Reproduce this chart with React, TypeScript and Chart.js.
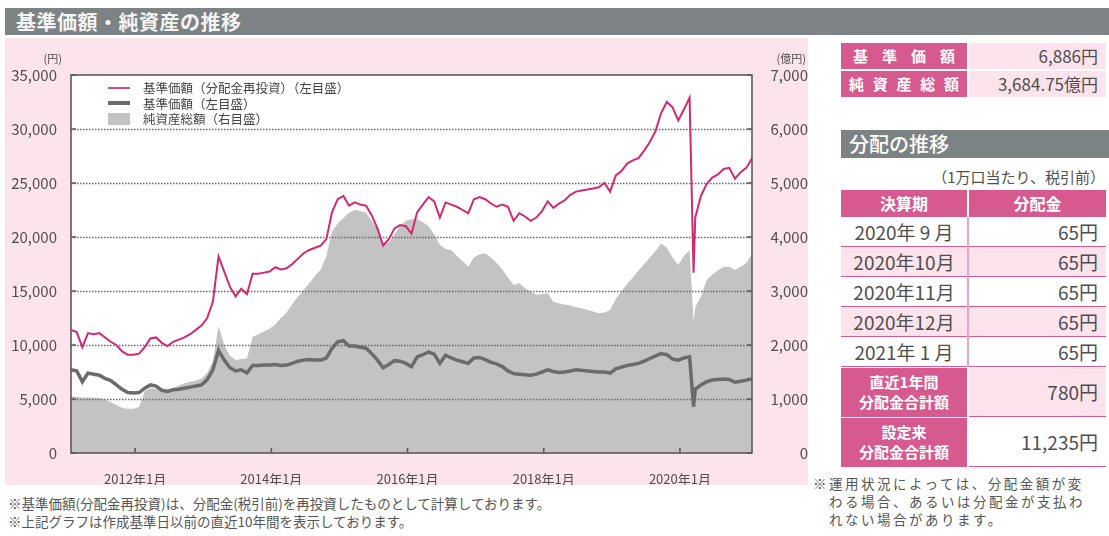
import React, { useEffect, useRef } from "react";
import { Chart, registerables } from "chart.js";

Chart.register(...registerables);

const FONT = "'Noto Sans CJK JP', 'Noto Sans', sans-serif";

// months since 2011-01-01 of the first monthly observation
const firstObservation = 0.7;

// 基準価額（分配金再投資） monthly, 円
const navReinvested = [
  11400, 11200, 9800, 11100, 11000, 11100, 10700, 10300, 10000, 9400,
  9100, 9100, 9200, 9800, 10600, 10700, 10200, 9900, 10300, 10500,
  10700, 11000, 11400, 11800, 12500, 14000, 18200, 16800, 15400, 14500,
  15200, 14700, 16600, 16600, 16700, 16800, 17200, 17000, 17100, 17500,
  18000, 18500, 18800, 19000, 19200, 19800, 22300, 23500, 23800, 22900,
  23200, 23000, 22900, 22000, 20800, 19200, 19800, 20800, 21100, 21000,
  20300, 22300, 23000, 23700, 23300, 21800, 23200, 23000, 22800, 22500,
  22200, 23500, 23700, 23500, 23100, 22800, 23000, 22800, 21500, 22200,
  21900, 21500, 21800, 22400, 23300, 22700, 23100, 23400, 23900, 24200,
  24300, 24400, 24500, 24600, 25000, 24200, 25700, 26100, 26800, 27100,
  27300, 28000, 28800, 29800, 31500, 32500, 32000, 30800, 31800, 32900,
  21800, 23800, 24900, 25500, 25800, 26300, 26400, 25400, 26000, 26400,
  27300,
];

// 基準価額 monthly, 円
const nav = [
  7700, 7600, 6600, 7400, 7300, 7200, 6900, 6700, 6300, 5900,
  5600, 5550, 5600, 6000, 6300, 6200, 5800, 5700, 5850, 5900,
  6000, 6100, 6200, 6300, 6800, 7700, 9500, 8600, 7900, 7600,
  7700, 7400, 8100, 8100, 8150, 8150, 8200, 8100, 8150, 8300,
  8500, 8600, 8650, 8600, 8600, 8800, 9700, 10300, 10400, 9900,
  9900, 9800, 9700, 9200, 8600, 7900, 8200, 8550, 8500, 8300,
  8000, 8900, 9100, 9350, 9150, 8300, 9050, 8800, 8600, 8450,
  8300, 8800, 8850, 8650, 8400, 8250, 8000, 7600, 7350, 7300,
  7250, 7200, 7300, 7500, 7700, 7550, 7450, 7500, 7600, 7700,
  7650, 7600, 7550, 7500, 7500, 7400, 7800, 7950, 8100, 8200,
  8300, 8500, 8750, 9000, 9200, 9100, 8700, 8600, 8800, 8900,
  5900, 6300, 6600, 6750, 6800, 6850, 6800, 6550, 6650, 6750,
  6886,
];

// 純資産総額 monthly, 億円
const netAssets = [
  1050, 1040, 1030, 1030, 1030, 1020, 990, 940, 890, 840,
  820, 820, 850, 1150, 1200, 1190, 1180, 1180, 1200, 1250,
  1290, 1320, 1340, 1380, 1480, 1700, 2350, 2000, 1800, 1720,
  1740, 1750, 2150, 2200, 2250, 2300, 2380, 2500, 2600, 2760,
  2900, 3020, 3150, 3280, 3400, 3650, 4100, 4250, 4350, 4450,
  4500, 4480, 4450, 4300, 4150, 3900, 3900, 4050, 4200, 4300,
  4330, 4330, 4280, 4200, 4050, 3850, 3780, 3760, 3650, 3550,
  3450, 3620, 3680, 3700, 3620, 3520, 3400, 3250, 3110, 3150,
  3050, 2990, 2930, 2940, 2960, 2800, 2770, 2750, 2730, 2700,
  2680, 2650, 2620, 2590, 2600, 2650, 2850, 3000, 3130, 3250,
  3380, 3500, 3620, 3740, 3880, 3800, 3620, 3480, 3650, 3760,
  2700, 2900, 3200, 3300, 3380, 3450, 3450, 3390, 3450, 3520,
  3685,
];

// March 2020 intramonth low
const crashMonth = [110.4];
const crashNavReinvested = [16700];
const crashNav = [4300];
const crashNetAssets = [2450];

const xTickMonths = [12, 36, 60, 84, 108];
const xTickLabels = ["2012年1月", "2014年1月", "2016年1月", "2018年1月", "2020年1月"];

const legendLabels = ["基準価額（分配金再投資）（左目盛）", "基準価額（左目盛）", "純資産総額（右目盛）"];

const summaryLabels = ["基準価額", "純資産総額"];
const summaryValues = ["6,886円", "3,684.75億円"];
const distPeriods = ["2020年 9 月", "2020年10月", "2020年11月", "2020年12月", "2021年 1 月"];
const distValues = ["65円", "65円", "65円", "65円", "65円"];
const totalLabels = [["直近1年間", "分配金合計額"], ["設定来", "分配金合計額"]];
const totalValues = ["780円", "11,235円"];

const PINK_DARK = "#d65a8f";
const PINK_LIGHT = "#fce3ec";
const PANEL_PINK = "#fde3eb";
const TITLE_GRAY = "#7d8384";
const TEXT = "#4f4f4f";

function toPoints(monthly: number[], extra: number[]) {
  const pts = monthly.map((y, i) => ({ x: firstObservation + i, y }));
  crashMonth.forEach((x, k) => pts.push({ x, y: extra[k] }));
  return pts.sort((a, b) => a.x - b.x);
}

export default function App() {
  const canvasRef = useRef<HTMLCanvasElement>(null);

  useEffect(() => {
    const canvas = canvasRef.current!;
    const areaPlugin = {
      id: "areaPlugin",
      beforeDatasetsDraw(chart: any) {
        const { ctx, chartArea: a } = chart;
        ctx.save();
        ctx.fillStyle = "#ffffff";
        ctx.fillRect(a.left, a.top, a.right - a.left, a.bottom - a.top);
        ctx.restore();
      },
      afterDatasetDraw(chart: any, args: any) {
        if (args.index !== 2) return;
        const { ctx, chartArea: a } = chart;
        const ys = chart.scales.y;
        ctx.save();
        ctx.strokeStyle = "#6a6a6a";
        ctx.lineWidth = 1.4;
        ctx.setLineDash([1.5, 1.5]);
        ys.ticks.forEach((t: any) => {
          if (t.value <= ys.min || t.value >= ys.max) return;
          const y = Math.round(ys.getPixelForValue(t.value)) + 0.5;
          ctx.beginPath();
          ctx.moveTo(a.left, y);
          ctx.lineTo(a.right, y);
          ctx.stroke();
        });
        ctx.restore();
      },
      afterDatasetsDraw(chart: any) {
        const { ctx, chartArea: a } = chart;
        const xs = chart.scales.x;
        const ys = chart.scales.y;
        ctx.save();
        ctx.strokeStyle = "#5a5a5a";
        ctx.lineWidth = 1.6;
        ctx.strokeRect(a.left, a.top, a.right - a.left, a.bottom - a.top);
        ctx.beginPath();
        xTickMonths.forEach((m) => {
          const x = xs.getPixelForValue(m);
          ctx.moveTo(x, a.bottom);
          ctx.lineTo(x, a.bottom - 5);
        });
        ys.ticks.forEach((t: any) => {
          const y = ys.getPixelForValue(t.value);
          ctx.moveTo(a.left, y);
          ctx.lineTo(a.left + 5, y);
          ctx.moveTo(a.right, y);
          ctx.lineTo(a.right - 5, y);
        });
        ctx.stroke();
        ctx.restore();
      },
    };

    const tickFont = { family: FONT, size: 15 };
    const chart = new Chart(canvas, {
      type: "line",
      data: {
        datasets: [
          {
            label: legendLabels[0],
            data: toPoints(navReinvested, crashNavReinvested),
            borderColor: "#cf2a74",
            borderWidth: 2,
            pointRadius: 0,
            yAxisID: "y",
            tension: 0,
          },
          {
            label: legendLabels[1],
            data: toPoints(nav, crashNav),
            borderColor: "#6b6b6b",
            borderWidth: 3.5,
            pointRadius: 0,
            yAxisID: "y",
            tension: 0,
          },
          {
            label: legendLabels[2],
            data: toPoints(netAssets, crashNetAssets),
            borderColor: "rgba(0,0,0,0)",
            borderWidth: 1,
            backgroundColor: "#c3c3c3",
            fill: "origin",
            pointRadius: 0,
            yAxisID: "y1",
            tension: 0,
          },
        ],
      },
      options: {
        animation: false,
        responsive: false,
        maintainAspectRatio: false,
        layout: { padding: { top: 37, left: 0, right: 0, bottom: 0 } },
        plugins: { legend: { display: false }, tooltip: { enabled: false } },
        scales: {
          x: {
            type: "linear",
            min: firstObservation,
            max: firstObservation + navReinvested.length - 1,
            grid: { display: false },
            border: { display: false },
            afterBuildTicks: (s: any) => {
              s.ticks = xTickMonths.map((v) => ({ value: v }));
            },
            afterFit: (s: any) => {
              s.height = 32;
            },
            ticks: {
              autoSkip: false,
              maxRotation: 0,
              padding: 10,
              color: TEXT,
              font: { family: FONT, size: 13 },
              callback: (_v: any, i: number) => xTickLabels[i],
            },
          },
          y: {
            position: "left",
            min: 0,
            max: 35000,
            grid: { display: false },
            border: { display: false },
            afterFit: (s: any) => {
              s.width = 66;
            },
            ticks: {
              stepSize: 5000,
              padding: 6,
              color: TEXT,
              font: tickFont,
              callback: (v: any) => Number(v).toLocaleString("en-US"),
            },
          },
          y1: {
            position: "right",
            min: 0,
            max: 7000,
            grid: { display: false },
            border: { display: false },
            afterFit: (s: any) => {
              s.width = 56;
            },
            ticks: {
              stepSize: 1000,
              padding: 10,
              crossAlign: "far",
              color: TEXT,
              font: tickFont,
              callback: (v: any) => Number(v).toLocaleString("en-US"),
            },
          },
        },
      },
      plugins: [areaPlugin],
    } as any);
    return () => chart.destroy();
  }, []);

  const abs = (l: number, t: number, w: number, h: number, extra: React.CSSProperties = {}): React.CSSProperties => ({
    position: "absolute",
    left: l,
    top: t,
    width: w,
    height: h,
    boxSizing: "border-box",
    ...extra,
  });

  const rowTops = [217, 247, 277, 307, 337];
  const totalTops = [367, 417];

  return (
    <div
      style={{
        position: "fixed",
        left: 0,
        top: 0,
        width: 1109,
        height: 536,
        background: "#ffffff",
        overflow: "hidden",
        fontFamily: FONT,
        color: TEXT,
      }}
    >
      {/* Title bar */}
      <div style={abs(5, 8, 1104, 27, { background: TITLE_GRAY })} />
      <div
        style={abs(16, 8, 400, 27, {
          color: "#f4f4f4",
          fontSize: 20,
          fontWeight: 700,
          lineHeight: "27px",
          letterSpacing: 0.5,
        })}
      >
        基準価額・純資産の推移
      </div>

      {/* pink chart panel */}
      <div style={abs(5, 38, 803, 447, { background: PANEL_PINK })} />
      <canvas ref={canvasRef} width={803} height={447} style={{ position: "absolute", left: 5, top: 38 }} />
      <div style={abs(30, 50, 32, 16, { fontSize: 11, lineHeight: "16px", textAlign: "right" })}>(円)</div>
      <div style={abs(766, 50, 40, 16, { fontSize: 11, lineHeight: "16px", textAlign: "right" })}>(億円)</div>

      {/* legend */}
      {legendLabels.map((lab, i) => (
        <div key={lab} style={abs(108, 80 + i * 15.5, 300, 15, {})}>
          {i === 0 && <div style={abs(0, 6.5, 22, 2, { background: "#d44d88" })} />}
          {i === 1 && <div style={abs(0, 5.5, 22, 4, { background: "#6b6b6b" })} />}
          {i === 2 && <div style={abs(0, 1.5, 22, 12, { background: "#c3c3c3" })} />}
          <div
            style={{
              position: "absolute",
              left: 35,
              top: 0,
              fontSize: 12.5,
              lineHeight: "15px",
              whiteSpace: "nowrap",
              color: "#444",
            }}
          >
            {lab}
          </div>
        </div>
      ))}

      {/* footnotes left */}
      <div style={abs(8, 494, 700, 18, { fontSize: 13.5, lineHeight: "18px", whiteSpace: "nowrap", color: "#555" })}>
        ※基準価額(分配金再投資)は、分配金(税引前)を再投資したものとして計算しております。
      </div>
      <div style={abs(8, 512, 700, 18, { fontSize: 13.5, lineHeight: "18px", whiteSpace: "nowrap", color: "#555" })}>
        ※上記グラフは作成基準日以前の直近10年間を表示しております。
      </div>

      {/* summary box */}
      {summaryLabels.map((lab, i) => (
        <React.Fragment key={lab}>
          <div
            style={abs(841, 43 + i * 28, 126, 26, {
              background: PINK_DARK,
              color: "#fff",
              fontSize: 15,
              fontWeight: 700,
              lineHeight: "26px",
              display: "flex",
              justifyContent: "space-between",
              padding: i === 0 ? "0 12px" : "0 8px",
            })}
          >
            {Array.from(lab).map((c, k) => (
              <span key={k}>{c}</span>
            ))}
          </div>
          <div
            style={abs(969, 43 + i * 28, 137, 26, {
              background: PINK_LIGHT,
              fontSize: 17,
              lineHeight: "26px",
              textAlign: "right",
              paddingRight: 8,
              whiteSpace: "nowrap",
            })}
          >
            {summaryValues[i]}
          </div>
        </React.Fragment>
      ))}

      {/* distribution header */}
      <div style={abs(841, 130, 268, 28, { background: TITLE_GRAY })} />
      <div style={abs(849, 130, 200, 28, { color: "#fff", fontSize: 20, lineHeight: "28px", fontWeight: 500 })}>
        分配の推移
      </div>
      <div style={abs(860, 166, 245, 22, { fontSize: 15, lineHeight: "22px", textAlign: "right", whiteSpace: "nowrap" })}>
        （1万口当たり、税引前）
      </div>

      {/* table header */}
      <div style={abs(841, 190, 126, 27, { background: PINK_DARK, color: "#fff", fontSize: 16, fontWeight: 700, lineHeight: "27px", textAlign: "center" })}>
        決算期
      </div>
      <div style={abs(969, 190, 137, 27, { background: PINK_DARK, color: "#fff", fontSize: 16, fontWeight: 700, lineHeight: "27px", textAlign: "center" })}>
        分配金
      </div>

      {distPeriods.map((p, i) => (
        <React.Fragment key={p}>
          <div
            style={abs(841, rowTops[i], 265, 30, {
              background: i % 2 === 1 ? PINK_LIGHT : "#fff",
              borderBottom: `1.5px solid ${PINK_DARK}`,
            })}
          />
          <div style={abs(967, rowTops[i], 1.5, 30, { background: "#e9a6c2" })} />
          <div style={abs(841, rowTops[i], 126, 30, { fontSize: 19, lineHeight: "30px", textAlign: "center", whiteSpace: "pre" })}>
            {p}
          </div>
          <div style={abs(969, rowTops[i], 137, 30, { fontSize: 19, lineHeight: "30px", textAlign: "right", paddingRight: 8 })}>
            {distValues[i]}
          </div>
        </React.Fragment>
      ))}

      {totalLabels.map((lines, i) => (
        <React.Fragment key={i}>
          <div
            style={abs(841, totalTops[i] + 1, 126, 49, {
              background: PINK_DARK,
              color: "#fff",
              fontSize: 15,
              fontWeight: 700,
              lineHeight: "20px",
              textAlign: "center",
              paddingTop: 4,
            })}
          >
            {lines[0]}
            <br />
            {lines[1]}
          </div>
          <div
            style={abs(969, totalTops[i] + 1, 137, 49, {
              background: i === 0 ? PINK_LIGHT : "#fff",
              borderBottom: `1.5px solid ${PINK_DARK}`,
              fontSize: 19,
              lineHeight: "48px",
              textAlign: "right",
              paddingRight: 8,
            })}
          >
            {totalValues[i]}
          </div>
        </React.Fragment>
      ))}

      {/* footnote right */}
      <div style={abs(813, 474, 320, 60, { fontSize: 13.5, lineHeight: "18px", color: "#555", whiteSpace: "pre", letterSpacing: 2.5 })}>
        {"※運用状況によっては、分配金額が変\n　わる場合、あるいは分配金が支払わ\n　れない場合があります。"}
      </div>
    </div>
  );
}
